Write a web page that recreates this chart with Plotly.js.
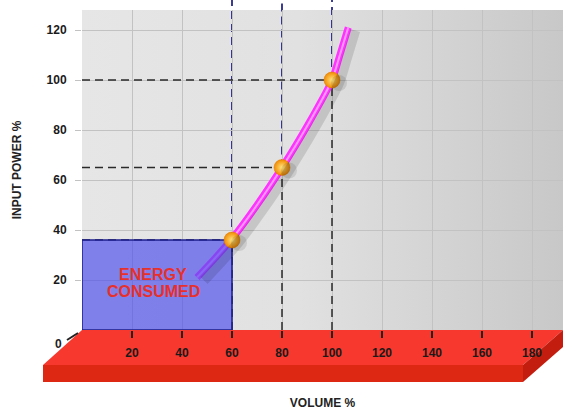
<!DOCTYPE html>
<html>
<head>
<meta charset="utf-8">
<script src="https://cdn.plot.ly/plotly-3.0.1.min.js"></script>
<style>html,body{margin:0;padding:0;background:#fff;}#chart{width:565px;height:410px;}</style>
</head>
<body>
<div id="chart"></div>
<script>
// ---- data ----
const curveVolume = [46, 53, 60, 70, 80, 90, 100, 103, 106.5];
const curvePower  = [21, 28.5, 36.5, 50, 65, 81.5, 100, 109.5, 121];
const pointVolume = [60, 80, 100];
const pointPower  = [36, 65, 100];
const xTickVals = [20, 40, 60, 80, 100, 120, 140, 160, 180];
const yTickVals = [20, 40, 60, 80, 100, 120];
const energyLines = ['ENERGY', 'CONSUMED'];
const xTitle = 'VOLUME %';
const yTitle = 'INPUT POWER %';
const zeroLabel = '0';

// ---- layout geometry (style only) ----
const W = 565, H = 410, ML = 82, MR = 2, MT = 10, MB = 80;
const PW = W - ML - MR, PH = H - MT - MB;
const PXU = 2.5; // pixels per data unit
const xRange = [0, PW / PXU];
const yRange = [0, PH / PXU];
const px = (x) => (x - ML) / PW;
const py = (y) => (H - MB - y) / PH;
const path = (pts) => 'M' + pts.map(p => px(p[0]) + ',' + py(p[1])).join(' L') + ' Z';

const FONT = 'Liberation Sans, Arial, sans-serif';

// gradient panel
const svg = "<svg xmlns='http://www.w3.org/2000/svg' width='481' height='320'><defs><linearGradient id='g' x1='0' x2='1' y1='0' y2='0'><stop offset='0' stop-color='#e6e6e6'/><stop offset='0.45' stop-color='#e1e1e1'/><stop offset='1' stop-color='#c8c8c8'/></linearGradient></defs><rect width='481' height='320' fill='url(#g)'/></svg>";
const bgSrc = 'data:image/svg+xml;charset=utf-8,' + encodeURIComponent(svg);

const shadowDX = 7, shadowDY = 3;

const rectX = [0, 0, pointVolume[0], pointVolume[0], 0];
const rectY = [0, pointPower[0], pointPower[0], 0, 0];

const traces = [
  { x: curveVolume, y: curvePower, xaxis: 'x2', yaxis: 'y2', mode: 'lines',
    line: { color: 'rgba(0,0,0,0.12)', width: 10, shape: 'spline', smoothing: 0.8 }, hoverinfo: 'skip' },
  { x: pointVolume, y: pointPower, xaxis: 'x2', yaxis: 'y2', mode: 'markers',
    marker: { color: 'rgba(0,0,0,0.10)', size: 16 }, hoverinfo: 'skip' },
  { x: curveVolume, y: curvePower, mode: 'lines',
    line: { color: '#ff33ff', width: 7, shape: 'spline', smoothing: 0.8 } },
  { x: curveVolume, y: curvePower, mode: 'lines',
    line: { color: '#ff99ff', width: 2, shape: 'spline', smoothing: 0.8 } },
  { x: rectX, y: rectY, mode: 'lines', fill: 'toself',
    fillcolor: 'rgba(80,80,238,0.68)', line: { color: '#1c1c8c', width: 1.5 } },
  { x: pointVolume, y: pointPower, mode: 'markers',
    marker: { color: '#f28a00', size: 16, line: { color: '#e07800', width: 0.5 },
      gradient: { type: 'radial', color: '#ffe680' } } }
];

const shapes = [];
// red floor
shapes.push({ type: 'path', xref: 'paper', yref: 'paper', layer: 'below',
  path: path([[82, 330], [563, 330], [523, 365], [43, 365]]), fillcolor: '#f6382e', line: { width: 0 } });
shapes.push({ type: 'path', xref: 'paper', yref: 'paper', layer: 'below',
  path: path([[43, 365], [523, 365], [523, 382], [43, 382]]), fillcolor: '#dd2814', line: { width: 0 } });
shapes.push({ type: 'path', xref: 'paper', yref: 'paper', layer: 'below',
  path: path([[523, 365], [563, 330], [563, 347], [523, 382]]), fillcolor: '#c21d0e', line: { width: 0 } });
// diagonal zero tick
shapes.push({ type: 'line', xref: 'paper', yref: 'paper', layer: 'above',
  x0: px(67), y0: py(340), x1: px(78), y1: py(333), line: { color: '#222', width: 2 } });

pointVolume.forEach((v, i) => {
  const p = pointPower[i];
  shapes.push({ type: 'line', xref: 'x', yref: 'paper', layer: 'between',
    x0: v, x1: v, y0: p / yRange[1], y1: 1 + MT / PH,
    line: { color: '#0c0c78', width: 1.6, dash: '8px,5px' } });
  shapes.push({ type: 'line', xref: 'x', yref: 'y', layer: 'between',
    x0: v, x1: v, y0: 0, y1: p, line: { color: '#2a2a2a', width: 1.5, dash: '8px,5px' } });
  shapes.push({ type: 'line', xref: 'x', yref: 'y', layer: 'between',
    x0: 0, x1: v, y0: p, y1: p, line: { color: '#2a2a2a', width: 1.5, dash: '8px,5px' } });
});

const annotations = [
  { text: energyLines[0], x: 28.4, y: 22.4, xref: 'x', yref: 'y', showarrow: false,
    font: { family: FONT, size: 16, color: '#e8302a', weight: 'bold' } },
  { text: energyLines[1], x: 28.4, y: 15.6, xref: 'x', yref: 'y', showarrow: false,
    font: { family: FONT, size: 16, color: '#e8302a', weight: 'bold' } },
  { text: zeroLabel, x: px(53), y: py(353), xref: 'paper', yref: 'paper', showarrow: false,
    font: { family: FONT, size: 12, color: '#222', weight: 'bold' } }
];

const layout = {
  width: W, height: H,
  margin: { l: ML, r: MR, t: MT, b: MB, pad: 0 },
  paper_bgcolor: '#ffffff',
  plot_bgcolor: 'rgba(0,0,0,0)',
  showlegend: false,
  font: { family: FONT, size: 12, color: '#222' },
  images: [{ source: bgSrc, xref: 'paper', yref: 'paper', x: 0, y: 1, sizex: 1, sizey: 1,
    sizing: 'stretch', xanchor: 'left', yanchor: 'top', layer: 'below' }],
  xaxis: {
    range: xRange, tickvals: xTickVals, ticks: 'outside', ticklen: 7, tickwidth: 2, tickcolor: '#222',
    showgrid: true, gridcolor: '#c2c2c2', gridwidth: 1, zeroline: false, showline: false,
    tickfont: { family: FONT, size: 12, color: '#1a1a1a', weight: 'bold' }, ticklabelstandoff: 5,
    title: { text: xTitle, standoff: 41, font: { family: FONT, size: 12, color: '#222', weight: 'bold' } },
    fixedrange: true
  },
  yaxis: {
    range: yRange, tickvals: yTickVals, ticks: 'outside', ticklen: 6, tickwidth: 1, tickcolor: '#c2c2c2',
    showgrid: true, gridcolor: '#c2c2c2', gridwidth: 1, zeroline: false, showline: false,
    tickfont: { family: FONT, size: 12, color: '#1a1a1a', weight: 'bold' }, ticklabelstandoff: 6,
    title: { text: yTitle, standoff: 22, font: { family: FONT, size: 12, color: '#222', weight: 'bold' } },
    fixedrange: true
  },
  xaxis2: { overlaying: 'x', range: [xRange[0] - shadowDX / PXU, xRange[1] - shadowDX / PXU], visible: false, fixedrange: true },
  yaxis2: { overlaying: 'y', range: [yRange[0] + shadowDY / PXU, yRange[1] + shadowDY / PXU], visible: false, fixedrange: true },
  shapes: shapes,
  annotations: annotations
};

Plotly.newPlot('chart', traces, layout, { displayModeBar: false, staticPlot: true });
</script>
</body>
</html>
